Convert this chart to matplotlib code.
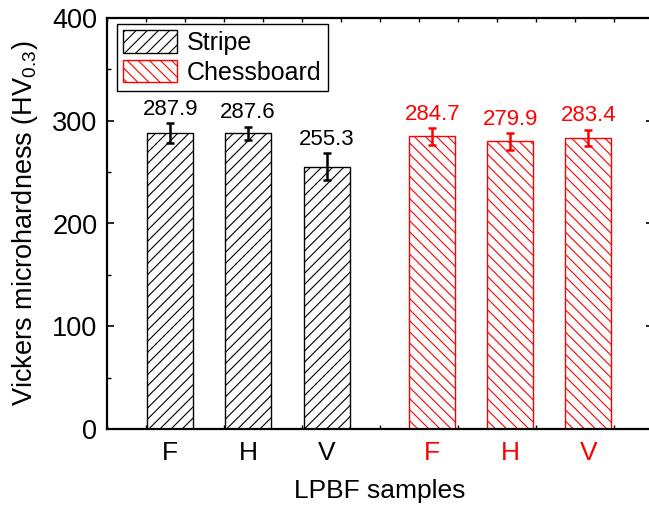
import matplotlib
matplotlib.use("Agg")
import matplotlib.pyplot as plt
from matplotlib.ticker import MultipleLocator, FixedLocator

plt.rcParams['font.family'] = ['Liberation Sans', 'DejaVu Sans']
plt.rcParams['mathtext.fontset'] = 'custom'
plt.rcParams['mathtext.rm'] = 'Liberation Sans'
plt.rcParams['mathtext.it'] = 'Liberation Sans:italic'
plt.rcParams['hatch.linewidth'] = 0.8

categories = ['F', 'H', 'V']
stripe_vals = [287.9, 287.6, 255.3]
stripe_err = [9.5, 6.5, 13.0]
chess_vals = [284.7, 279.9, 283.4]
chess_err = [8.0, 8.0, 8.0]
stripe_pos = [0.81, 1.81, 2.82]
chess_pos = [4.17, 5.17, 6.17]

fig = plt.figure(figsize=(6.49, 5.07), dpi=100)
ax = fig.add_axes([107/649, 78/507, 546/649, 411/507])

w = 0.59
ax.bar(stripe_pos, stripe_vals, width=w, facecolor='white', edgecolor='black',
       hatch='///', linewidth=1.0, label='Stripe', zorder=2)
ax.bar(chess_pos, chess_vals, width=w, facecolor='white', edgecolor='red',
       hatch='\\\\\\', linewidth=1.0, label='Chessboard', zorder=2)
ax.errorbar(stripe_pos, stripe_vals, yerr=stripe_err, fmt='none', ecolor='black',
            elinewidth=1.8, capsize=3, capthick=1.8, zorder=3)
ax.errorbar(chess_pos, chess_vals, yerr=chess_err, fmt='none', ecolor='red',
            elinewidth=1.8, capsize=3, capthick=1.8, zorder=3)

for x, v, e in zip(stripe_pos, stripe_vals, stripe_err):
    ax.annotate(f'{v:.1f}', (x, v + e), xytext=(0, 2.5), textcoords='offset points',
                ha='center', va='bottom', fontsize=16, color='black')
for x, v, e in zip(chess_pos, chess_vals, chess_err):
    ax.annotate(f'{v:.1f}', (x, v + e), xytext=(0, 2.5), textcoords='offset points',
                ha='center', va='bottom', fontsize=16, color='red')

ax.set_xlim(0, 7)
ax.set_ylim(0, 400)
ax.xaxis.set_major_locator(FixedLocator(stripe_pos + chess_pos))
ax.set_xticklabels(categories + categories)
for lbl, c in zip(ax.get_xticklabels(), ['black'] * 3 + ['red'] * 3):
    lbl.set_color(c)
ax.xaxis.set_minor_locator(MultipleLocator(0.5))
ax.yaxis.set_major_locator(MultipleLocator(100))
ax.yaxis.set_minor_locator(MultipleLocator(50))

ax.tick_params(axis='x', which='major', length=0, pad=9, labelsize=19)
ax.tick_params(axis='x', which='minor', direction='in', length=3, width=1, top=True, bottom=True)
ax.tick_params(axis='y', which='major', direction='in', length=5, width=1.2, labelsize=19.5, pad=7, right=True)
ax.tick_params(axis='y', which='minor', direction='in', length=3, width=1, right=True)

for s in ax.spines.values():
    s.set_linewidth(1.6)

ax.set_xlabel('LPBF samples', fontsize=19, labelpad=10)
ax.set_ylabel('Vickers microhardness (HV$_{0.3}$)', fontsize=19.5, labelpad=9)

leg = ax.legend(loc='upper left', bbox_to_anchor=(10/546, 1 - 6/411), fontsize=18,
                frameon=True, fancybox=False, edgecolor='black', framealpha=1,
                handlelength=2.15, handleheight=1.0, borderpad=0.25, labelspacing=0.2,
                handletextpad=0.4, borderaxespad=0)
leg.get_frame().set_linewidth(1.0)

fig.savefig('out.png', dpi=100)
